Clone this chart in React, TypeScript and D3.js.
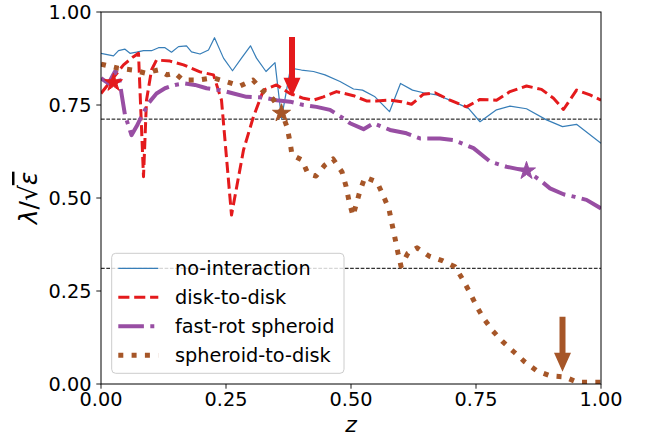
import React from 'react';
import * as d3 from 'd3';

const W = 646;
const H = 443;
const PLOT = { left: 101, right: 601, top: 12, bottom: 384 };

// no-interaction
const noInterZ = [0.0, 0.025, 0.035, 0.048, 0.058, 0.071, 0.085, 0.101, 0.115, 0.128, 0.141, 0.155, 0.171, 0.181, 0.198, 0.215, 0.227, 0.245, 0.263, 0.281, 0.299, 0.311, 0.33, 0.348, 0.361, 0.379, 0.401, 0.425, 0.448, 0.478, 0.505, 0.523, 0.548, 0.577, 0.599, 0.623, 0.645, 0.671, 0.698, 0.735, 0.758, 0.791, 0.818, 0.851, 0.891, 0.923, 0.951, 1.0];
const noInterV = [0.889, 0.882, 0.896, 0.9, 0.889, 0.892, 0.896, 0.896, 0.904, 0.904, 0.892, 0.907, 0.909, 0.893, 0.887, 0.898, 0.931, 0.876, 0.842, 0.876, 0.909, 0.876, 0.84, 0.864, 0.714, 0.849, 0.844, 0.84, 0.831, 0.813, 0.793, 0.79, 0.772, 0.732, 0.808, 0.79, 0.783, 0.777, 0.763, 0.741, 0.705, 0.737, 0.747, 0.74, 0.71, 0.692, 0.698, 0.647];

// disk-to-disk
const diskZ = [0.0, 0.021, 0.045, 0.065, 0.075, 0.085, 0.091, 0.101, 0.111, 0.138, 0.165, 0.198, 0.225, 0.241, 0.261, 0.285, 0.305, 0.325, 0.351, 0.378, 0.405, 0.425, 0.445, 0.471, 0.505, 0.531, 0.551, 0.578, 0.601, 0.621, 0.645, 0.668, 0.698, 0.731, 0.758, 0.791, 0.818, 0.851, 0.881, 0.905, 0.925, 0.951, 0.978, 1.0];
const diskV = [0.781, 0.817, 0.858, 0.88, 0.889, 0.557, 0.763, 0.844, 0.871, 0.868, 0.858, 0.839, 0.831, 0.763, 0.454, 0.629, 0.719, 0.79, 0.804, 0.781, 0.768, 0.763, 0.772, 0.786, 0.775, 0.761, 0.761, 0.763, 0.759, 0.752, 0.779, 0.783, 0.763, 0.745, 0.765, 0.763, 0.786, 0.801, 0.792, 0.768, 0.738, 0.79, 0.777, 0.763];

// fast-rot spheroid
const fastZ = [0.0, 0.015, 0.028, 0.035, 0.041, 0.048, 0.061, 0.071, 0.081, 0.095, 0.111, 0.128, 0.148, 0.168, 0.188, 0.211, 0.238, 0.265, 0.291, 0.325, 0.351, 0.378, 0.405, 0.431, 0.458, 0.485, 0.498, 0.525, 0.545, 0.578, 0.611, 0.638, 0.678, 0.705, 0.745, 0.778, 0.811, 0.851, 0.878, 0.898, 0.925, 0.948, 0.971, 1.0];
const fastV = [0.822, 0.808, 0.84, 0.835, 0.781, 0.723, 0.669, 0.692, 0.719, 0.755, 0.781, 0.795, 0.804, 0.808, 0.804, 0.795, 0.79, 0.781, 0.772, 0.77, 0.763, 0.759, 0.75, 0.745, 0.737, 0.714, 0.701, 0.685, 0.701, 0.683, 0.674, 0.66, 0.66, 0.656, 0.634, 0.598, 0.584, 0.573, 0.548, 0.526, 0.51, 0.503, 0.495, 0.472];

// spheroid-to-disk
const sphZ = [0.0, 0.034, 0.064, 0.088, 0.114, 0.132, 0.148, 0.164, 0.194, 0.224, 0.252, 0.278, 0.304, 0.322, 0.344, 0.362, 0.372, 0.378, 0.382, 0.402, 0.414, 0.43, 0.448, 0.464, 0.482, 0.49, 0.496, 0.504, 0.51, 0.518, 0.528, 0.552, 0.564, 0.576, 0.582, 0.588, 0.594, 0.6, 0.614, 0.632, 0.656, 0.684, 0.708, 0.724, 0.738, 0.752, 0.766, 0.784, 0.804, 0.826, 0.848, 0.872, 0.898, 0.928, 0.952, 0.982, 1.0];
const sphV = [0.86, 0.849, 0.844, 0.836, 0.844, 0.831, 0.836, 0.817, 0.817, 0.823, 0.812, 0.801, 0.817, 0.79, 0.766, 0.728, 0.691, 0.651, 0.616, 0.602, 0.565, 0.559, 0.589, 0.605, 0.57, 0.532, 0.492, 0.452, 0.481, 0.519, 0.556, 0.543, 0.508, 0.47, 0.43, 0.392, 0.352, 0.317, 0.352, 0.366, 0.344, 0.331, 0.315, 0.28, 0.245, 0.207, 0.175, 0.142, 0.113, 0.086, 0.059, 0.035, 0.022, 0.019, 0.005, 0.005, 0.005];

const seriesNames = ['no-interaction', 'disk-to-disk', 'fast-rot spheroid', 'spheroid-to-disk'];
const refLevels = [0.712, 0.311];
const tickValues = [0, 0.25, 0.5, 0.75, 1];

// star markers and arrows (z, value)
const starZ = [0.025, 0.361, 0.851];
const starV = [0.81, 0.728, 0.573];
const arrowZ = [0.382, 0.923];
const arrowFromV = [0.933, 0.181];
const arrowToV = [0.772, 0.033];

const BLUE = '#377eb8';
const RED = '#e41a1c';
const PURPLE = '#984ea3';
const BROWN = '#a65628';

const styles = [
  { color: BLUE, width: 1.2, dash: undefined as string | undefined },
  { color: RED, width: 3, dash: '11.1,4.8' },
  { color: PURPLE, width: 4, dash: '25.6,6.4,4,6.4' },
  { color: BROWN, width: 5, dash: '5,8.3' },
];

const FONT = 'DejaVu Sans, sans-serif';
const FS = 19.3;

export default function App() {
  const x = d3.scaleLinear().domain([0, 1]).range([PLOT.left, PLOT.right]);
  const y = d3.scaleLinear().domain([0, 1]).range([PLOT.bottom, PLOT.top]);

  const line = d3
    .line<[number, number]>()
    .x((d) => x(d[0]))
    .y((d) => y(d[1]));

  const series = [
    d3.zip(noInterZ, noInterV),
    d3.zip(diskZ, diskV),
    d3.zip(fastZ, fastV),
    d3.zip(sphZ, sphV),
  ] as [number, number][][];

  const starColors = [RED, BROWN, PURPLE];
  const star = d3.symbol(d3.symbolStar, 100);
  const arrowColors = [RED, BROWN];

  const arrowPoints = (i: number) => {
    const ax = x(arrowZ[i]);
    const y0 = y(arrowFromV[i]);
    const y1 = y(arrowToV[i]);
    const hl = 19;
    const sw = 3;
    const hw = 8.5;
    return [
      [ax - sw, y0],
      [ax + sw, y0],
      [ax + sw, y1 - hl],
      [ax + hw, y1 - hl],
      [ax, y1],
      [ax - hw, y1 - hl],
      [ax - sw, y1 - hl],
    ]
      .map((p) => p.join(','))
      .join(' ');
  };

  const leg = { x: 111.7, y: 253.3, w: 232.3, h: 120, row: 29 };

  return (
    <svg
      width={W}
      height={H}
      style={{ position: 'absolute', left: 0, top: 0, background: '#fff' }}
      fontFamily={FONT}
    >
      <defs>
        <clipPath id="plotClip">
          <rect x={PLOT.left} y={PLOT.top} width={PLOT.right - PLOT.left} height={PLOT.bottom - PLOT.top} />
        </clipPath>
      </defs>

      <g clipPath="url(#plotClip)">
        {refLevels.map((v) => (
          <line
            key={v}
            x1={PLOT.left}
            x2={PLOT.right}
            y1={y(v)}
            y2={y(v)}
            stroke="#000"
            strokeWidth={1}
            strokeDasharray="3.7,1.6"
          />
        ))}
        {series.map((s, i) => (
          <path
            key={seriesNames[i]}
            d={line(s) || ''}
            fill="none"
            stroke={styles[i].color}
            strokeWidth={styles[i].width}
            strokeDasharray={styles[i].dash}
            strokeLinejoin="round"
          />
        ))}
        {starZ.map((z, i) => (
          <path
            key={`star-${i}`}
            d={star() || ''}
            transform={`translate(${x(z)},${y(starV[i])})`}
            fill={starColors[i]}
            stroke={starColors[i]}
            strokeWidth={1}
          />
        ))}
        {arrowZ.map((z, i) => (
          <polygon key={`arrow-${i}`} points={arrowPoints(i)} fill={arrowColors[i]} />
        ))}
      </g>

      {/* legend */}
      <g>
        <rect
          x={leg.x}
          y={leg.y}
          width={leg.w}
          height={leg.h}
          rx={4}
          fill="#fff"
          fillOpacity={0.8}
          stroke="#ccc"
          strokeWidth={1}
        />
        {seriesNames.map((name, i) => {
          const cy = leg.y + 15 + i * leg.row;
          return (
            <g key={name}>
              <line
                x1={118.3}
                x2={158.3}
                y1={cy}
                y2={cy}
                stroke={styles[i].color}
                strokeWidth={styles[i].width}
                strokeDasharray={styles[i].dash}
              />
              <text x={175} y={cy + 6.8} fontSize={FS} fill="#000">
                {name}
              </text>
            </g>
          );
        })}
      </g>

      {/* frame */}
      <rect
        x={PLOT.left}
        y={PLOT.top}
        width={PLOT.right - PLOT.left}
        height={PLOT.bottom - PLOT.top}
        fill="none"
        stroke="#000"
        strokeWidth={1}
      />

      {/* x axis */}
      {tickValues.map((t) => (
        <g key={`x-${t}`} transform={`translate(${x(t)},${PLOT.bottom})`}>
          <line y2={4.7} stroke="#000" strokeWidth={0.9} />
          <text y={22} textAnchor="middle" fontSize={FS} fill="#000">
            {d3.format('.2f')(t)}
          </text>
        </g>
      ))}
      <text x={(PLOT.left + PLOT.right) / 2} y={431.5} textAnchor="middle" fontSize={22} fontStyle="italic" fill="#000">
        z
      </text>

      {/* y axis */}
      {tickValues.map((t) => (
        <g key={`y-${t}`} transform={`translate(${PLOT.left},${y(t)})`}>
          <line x2={-4.7} stroke="#000" strokeWidth={0.9} />
          <text x={-9.5} dy="0.36em" textAnchor="end" fontSize={FS} fill="#000">
            {d3.format('.2f')(t)}
          </text>
        </g>
      ))}
      <g transform={`translate(37,${(PLOT.top + PLOT.bottom) / 2}) rotate(-90)`}>
        <text textAnchor="middle" fontSize={25} fill="#000">
          <tspan fontStyle="italic">λ</tspan>/√<tspan fontStyle="italic" textDecoration="overline">ε</tspan>
        </text>
      </g>
    </svg>
  );
}
